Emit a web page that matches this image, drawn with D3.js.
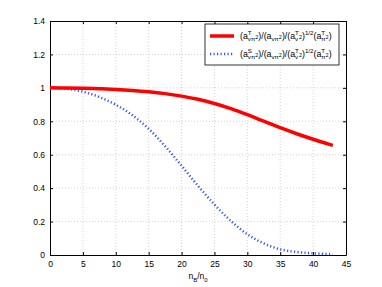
<!DOCTYPE html>
<html><head><meta charset="utf-8">
<script src="https://cdn.jsdelivr.net/npm/d3@7"></script>
<style>body{margin:0;background:#fff}svg{display:block}text{font-family:"Liberation Sans",Arial,sans-serif}</style>
</head><body>
<script>
const xVals = [0,2.5,5,7.5,10,12.5,15,17.5,20,22.5,25,27.5,30,32.5,35,37.5,40,42.5,43];
const redVals = [1.0,0.9995,0.998,0.995,0.9905,0.9845,0.9765,0.9655,0.9505,0.9315,0.9065,0.8755,0.8395,0.8005,0.7615,0.7255,0.6925,0.6615,0.6555];
const blueVals = [1.0,0.995,0.977,0.945,0.899,0.837,0.755,0.651,0.534,0.414,0.302,0.204,0.124,0.069,0.034,0.018,0.010,0.006,0.005];
const xTicks = [0,5,10,15,20,25,30,35,40,45];
const yTicks = [0,0.2,0.4,0.6,0.8,1,1.2,1.4];

const W=382,H=287;
const L=50,R=346,T=21,B=255;
const svg=d3.select("body").append("svg").attr("width",W).attr("height",H);
const x=d3.scaleLinear().domain([0,45]).range([L,R]);
const y=d3.scaleLinear().domain([0,1.4]).range([B,T]);

// grid
const grid=svg.append("g").attr("stroke","#c8c8c8").attr("stroke-width",0.8).attr("stroke-dasharray","1,2");
xTicks.slice(1,-1).forEach(v=>grid.append("line").attr("x1",x(v)).attr("x2",x(v)).attr("y1",T).attr("y2",B));
yTicks.slice(1,-1).forEach(v=>grid.append("line").attr("y1",y(v)).attr("y2",y(v)).attr("x1",L).attr("x2",R));

// axes with inward ticks
const fs=8.5;
const gx=svg.append("g").attr("transform",`translate(0,${B})`).call(d3.axisBottom(x).tickValues(xTicks).tickSizeInner(-3).tickSizeOuter(0).tickPadding(6).tickFormat(d3.format("d")));
const gxt=svg.append("g").attr("transform",`translate(0,${T})`).call(d3.axisTop(x).tickValues(xTicks).tickSizeInner(-3).tickSizeOuter(0).tickFormat(""));
const gy=svg.append("g").attr("transform",`translate(${L},0)`).call(d3.axisLeft(y).tickValues(yTicks).tickSizeInner(-3).tickSizeOuter(0).tickPadding(6).tickFormat(d=>d3.format("")(+d.toFixed(1))));
const gyr=svg.append("g").attr("transform",`translate(${R},0)`).call(d3.axisRight(y).tickValues(yTicks).tickSizeInner(-3).tickSizeOuter(0).tickFormat(""));
[gx,gxt,gy,gyr].forEach(g=>{g.select(".domain").attr("stroke","#000").attr("stroke-width",1);g.selectAll(".tick line").attr("stroke","#000");g.selectAll("text").attr("font-size",fs).attr("font-family","Liberation Sans, Arial, sans-serif").attr("fill","#000");});
gy.selectAll("text").attr("dx",1);

// lines
const line=d3.line().x((d,i)=>x(xVals[i])).y(d=>y(d)).curve(d3.curveCatmullRom);
svg.append("path").datum(blueVals).attr("d",line).attr("fill","none").attr("stroke","#3355ff").attr("stroke-width",2.5).attr("stroke-dasharray","1.2,2.3");
svg.append("path").datum(redVals).attr("d",line).attr("fill","none").attr("stroke","#ff0000").attr("stroke-width",3.5);

// x label
const xl=svg.append("text").attr("x",198).attr("y",279).attr("text-anchor","middle").attr("font-size",fs);
xl.append("tspan").text("n");
xl.append("tspan").text("B").attr("font-size",6).attr("dy",2.5);
xl.append("tspan").text("/n").attr("dy",-2.5);
xl.append("tspan").text("0").attr("font-size",6).attr("dy",2.5);

// legend
const lg=svg.append("g");
lg.append("rect").attr("x",205).attr("y",24).attr("width",134).attr("height",41).attr("fill","#fff").attr("stroke","#000").attr("stroke-width",0.8);
lg.append("line").attr("x1",210).attr("x2",234).attr("y1",36).attr("y2",36).attr("stroke","#ff0000").attr("stroke-width",3.5);
lg.append("line").attr("x1",210).attr("x2",234).attr("y1",54).attr("y2",54).attr("stroke","#3355ff").attr("stroke-width",2.5).attr("stroke-dasharray","1.2,2.3");

function layout(x0,yb,parts){
  let cx=x0, stackStart=x0, stackW=0;
  parts.forEach(p=>{
    let size=8.8, dy=0;
    if(p.s==="sup"){size=6.2;dy=-4;}
    if(p.s==="sub"){size=6.2;dy=2.6;}
    if(p.s==="tiny"){size=5.5;dy=0.3;}
    let px=cx;
    if(p.stack){px=stackStart;}
    const t=lg.append("text").attr("x",px).attr("y",yb+dy).attr("font-size",size).text(p.t);
    const w=t.node().getComputedTextLength();
    if(p.stack){stackW=Math.max(stackW,w);cx=stackStart+stackW;}
    else{stackStart=px;stackW=w;cx=px+w;}
  });
}
function legendParts(sup1){
  return [
    {t:"(a"},{t:sup1,s:"sup"},{t:"vπ",s:"sub",stack:true},{t:"2",s:"tiny"},
    {t:")/(a"},{t:"vπ",s:"sub"},{t:"2",s:"tiny"},
    {t:")/(a"},{t:"T",s:"sup"},{t:"v",s:"sub",stack:true},{t:"2",s:"tiny"},
    {t:")"},{t:"1/2",s:"sup"},
    {t:"(a"},{t:"T",s:"sup"},{t:"π",s:"sub",stack:true},{t:"2",s:"tiny"},{t:")"}
  ];
}
layout(240,38.5,legendParts("T"));
layout(240,56.5,legendParts("S"));
</script>
</body></html>
